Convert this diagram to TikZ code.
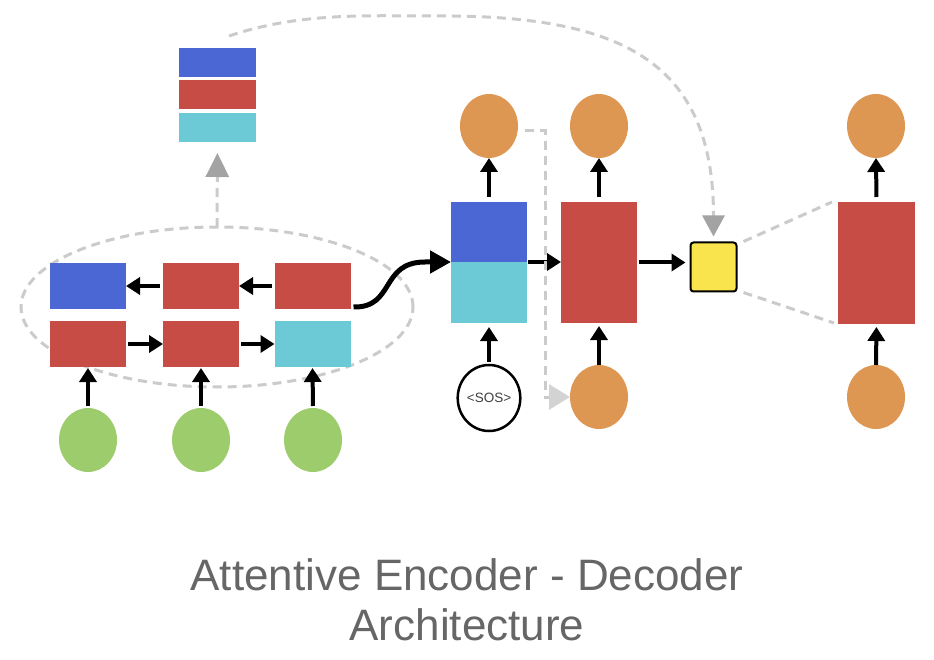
\documentclass[tikz,border=0pt]{standalone}
\usepackage{fontspec}
\setmainfont{Liberation Sans}
\usetikzlibrary{arrows.meta,shapes.geometric,calc}
\definecolor{cblue}{HTML}{4A67D4}
\definecolor{cred}{HTML}{C74C46}
\definecolor{ccyan}{HTML}{6CC9D6}
\definecolor{cgreen}{HTML}{9CCC6C}
\definecolor{corange}{HTML}{DD9752}
\definecolor{cyellow}{HTML}{F9E44D}
\definecolor{dgray}{HTML}{CBCBCB}
\definecolor{tipgray}{HTML}{A3A3A3}
\definecolor{tiplight}{HTML}{D3D3D3}
\definecolor{titlegray}{HTML}{666666}
\begin{document}
\begin{tikzpicture}[x=1pt,y=-1pt,
  cell/.style={rectangle, inner sep=0pt, outer sep=0pt, minimum width=76pt, minimum height=46pt},
  stackcell/.style={rectangle, inner sep=0pt, outer sep=0pt, minimum width=77pt, minimum height=29pt},
  blob/.style={ellipse, inner sep=0pt, outer sep=0pt, minimum width=58pt, minimum height=64pt},
  blk/.style={line width=4pt, -{Triangle[length=14pt,width=17pt]}},
  dsh/.style={draw=dgray, line width=3pt, dash pattern=on 9pt off 6pt},
  titletext/.style={anchor=base, text=titlegray, font=\fontsize{44}{52}\selectfont},
]
\useasboundingbox (0,0) rectangle (934,660);

% ---------- encoder ----------
\node[ellipse, dsh, minimum width=392pt, minimum height=160pt, inner sep=0pt, outer sep=0pt] (enc) at (217,307) {};

\node[cell, fill=cblue] (e11) at (88,286) {};
\node[cell, fill=cred] (e12) at (201,286) {};
\node[cell, fill=cred] (e13) at (312.5,286) {};
\node[cell, fill=cred] (e21) at (88,344) {};
\node[cell, fill=cred] (e22) at (201,344) {};
\node[cell, fill=ccyan] (e23) at (312.5,344) {};

\draw[blk, shorten <=3pt] (e12.west) -- (e11.east);
\draw[blk, shorten <=3pt] (e13.west) -- (e12.east);
\draw[blk, shorten <=2pt] (e21.east) -- (e22.west);
\draw[blk, shorten <=2pt] (e22.east) -- (e23.west);

\node[blob, fill=cgreen] (g1) at (88,440) {};
\node[blob, fill=cgreen] (g2) at (201,440) {};
\node[blob, fill=cgreen] (g3) at (313,440) {};
\draw[blk, shorten <=2pt, shorten >=1pt] (g1.north) -- (e21.south);
\draw[blk, shorten <=2pt, shorten >=1pt] (g2.north) -- (e22.south);
\draw[blk, shorten <=2pt, shorten >=1pt] (g3.north) -- (e23.south);

% ---------- context stack ----------
\node[stackcell, fill=cblue] (sb) at (217.5,62.5) {};
\node[stackcell, fill=cred] (sr) at (217.5,95) {};
\node[stackcell, fill=ccyan] (sc) at (217.5,127.5) {};
\draw[dsh, -{Triangle[length=24pt,width=23pt,color=tipgray]}, shorten >=11pt] (enc.north) -- (sc.south);

% ---------- decoder ----------
\node[rectangle, inner sep=0pt, outer sep=0pt, minimum width=76pt, minimum height=60pt, fill=cblue] (db) at (489,232) {};
\node[rectangle, inner sep=0pt, outer sep=0pt, minimum width=76pt, minimum height=61pt, fill=ccyan] (dc) at (489,292.5) {};
\node[rectangle, inner sep=0pt, outer sep=0pt, minimum width=76pt, minimum height=121pt, fill=cred] (dr) at (599,262.5) {};
\node[rectangle, rounded corners=3pt, draw=black, line width=2pt, inner sep=0pt, minimum width=46pt, minimum height=49pt, fill=cyellow] (att) at (713.5,267) {};
\node[rectangle, inner sep=0pt, outer sep=0pt, minimum width=77pt, minimum height=122pt, fill=cred] (rr) at (876.5,263) {};

\node[blob, fill=corange] (o1) at (489,126) {};
\node[blob, fill=corange] (o2) at (599,126) {};
\node[blob, fill=corange] (o3) at (599,397) {};
\node[blob, fill=corange] (o4) at (876,126) {};
\node[blob, fill=corange] (o5) at (876,397) {};
\node[ellipse, draw=black, line width=2.5pt, inner sep=0pt, minimum width=59pt, minimum height=66pt, font=\fontsize{13.5}{15}\selectfont, text=black!75] (sos) at (489,398) {<SOS>};

% S-curve from encoder to decoder
\draw[line width=5pt, -{Triangle[length=21pt,width=22pt]}] (e13.south east) ++(3,-2) .. controls (395,308) and (380,262) .. (425,262) -- (db.south west);

\draw[blk, shorten <=5pt] (db.north) -- (o1.south);
\draw[blk, shorten <=2pt, shorten >=4pt] (sos.north) -- (dc.south);
\draw[blk, shorten <=1pt] (db.south east) -- (dr.west |- db.south east);
\draw[blk, shorten <=5pt] (dr.north) -- (o2.south);
\draw[blk, shorten >=3pt] (o3.north) -- (dr.south);
\draw[blk, shorten <=2pt, shorten >=4pt] (dr.east) -- (att.west |- dr.east);
\draw[blk, shorten <=5pt] (rr.north) -- (o4.south);
\draw[blk, shorten >=3pt] (o5.north) -- (rr.south);

% dashed feedback from first output to next input
\draw[dsh, -{Triangle[length=21pt,width=25pt,color=tiplight]}] ($(o1.east)+(7,5)$) -- (545,131) |- (o3.west);

% big dashed curve from context stack to attention
\coordinate (c1) at (229,36);
\draw[dsh, -{Triangle[length=21pt,width=22pt,color=tipgray]}, shorten >=5pt] (c1) .. controls (300,12) and (370,16) .. (430,16) .. controls (620,14) and (713.5,60) .. (att.north);

% dashed expansion lines
\draw[dsh] ($(att.north east)+(6,0)$) -- ($(rr.north west)+(-6,0)$);
\draw[dsh] ($(att.south east)+(6,0)$) -- ($(rr.south west)+(-4,-1)$);

% ---------- title ----------
\node[titletext] (t1) at (467,590) {Attentive Encoder - Decoder};
\node[titletext] (t2) at (467,640) {Architecture};
\end{tikzpicture}
\end{document}
